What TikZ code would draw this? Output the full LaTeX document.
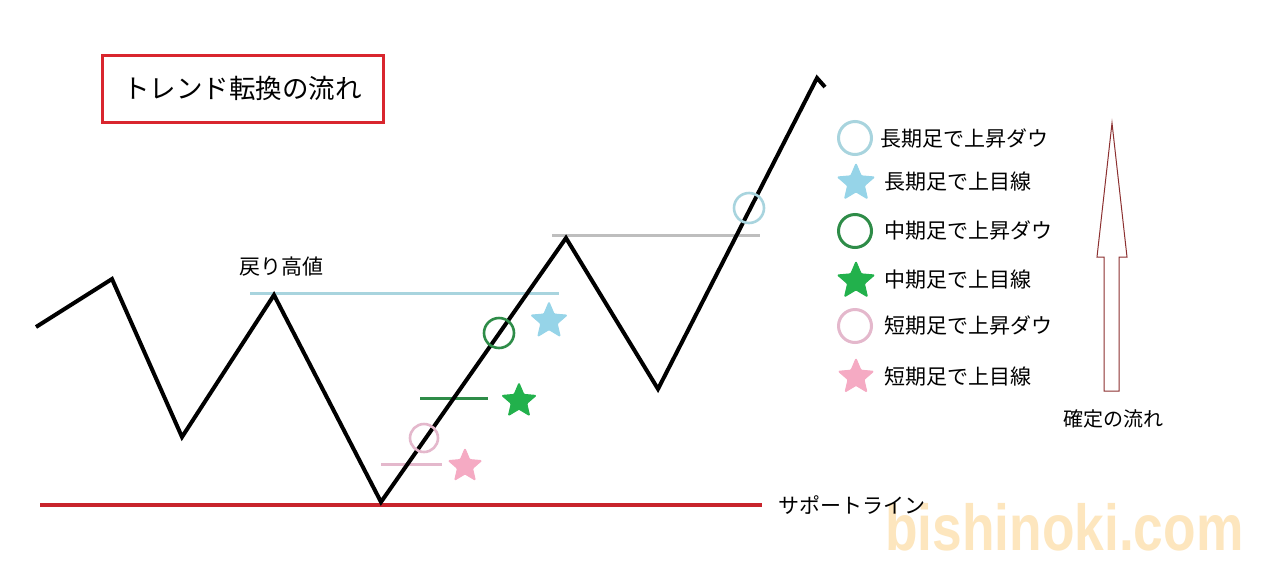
\documentclass[tikz,border=0pt]{standalone}
\usepackage{fontspec}
\setmainfont{Noto Sans CJK JP}
\newfontfamily\wmfont{Liberation Sans}
\usetikzlibrary{shapes.geometric}
\definecolor{lblue}{RGB}{168,212,222}
\definecolor{sblue}{RGB}{150,212,232}
\definecolor{mgreen}{RGB}{46,140,72}
\definecolor{sgreen}{RGB}{34,177,76}
\definecolor{lpink}{RGB}{228,184,204}
\definecolor{spink}{RGB}{245,170,195}
\definecolor{supred}{RGB}{200,36,44}
\definecolor{boxred}{RGB}{217,38,46}
\definecolor{arrred}{RGB}{140,48,48}
\definecolor{greyl}{RGB}{190,190,190}
\definecolor{wmorange}{RGB}{253,230,190}
\tikzset{
  ring/.style={circle,draw=#1,line width=2.6pt,inner sep=0pt,minimum size=30pt},
  bigring/.style={circle,draw=#1,line width=3pt,inner sep=0pt,minimum size=33pt},
  starshape/.style={star,star points=5,star point ratio=2.2,fill=#1,draw=#1,line width=1pt,line join=round,rounded corners=1pt,inner sep=0pt,minimum size=36pt},
  lbl/.style={inner sep=0pt,anchor=west,font=\fontsize{21}{23}\selectfont},
  hline/.style={line width=3pt,draw=#1}
}
\begin{document}
\begin{tikzpicture}[x=1pt,y=-1pt]
\useasboundingbox[fill=white] (0,0) rectangle (1280,574);
% watermark
\node[inner sep=0pt,anchor=south west,text=wmorange,xscale=0.82,font=\wmfont\bfseries\fontsize{65}{65}\selectfont] (wm) at (885,551) {bishinoki.com};
% title
\node[draw=boxred,line width=3pt,minimum width=281pt,minimum height=67pt,inner sep=0pt,font=\fontsize{26.5}{28}\selectfont] (title) at (242.5,88.5) {トレンド転換の流れ};
% reference lines
\coordinate (bl1) at (250,293); \coordinate (bl2) at (559,293);
\draw[hline=lblue] (bl1) -- (bl2);
\coordinate (gl1) at (552,235); \coordinate (gl2) at (760,235);
\draw[hline=greyl] (gl1) -- (gl2);
\coordinate (ml1) at (420,398); \coordinate (ml2) at (488,398);
\draw[hline=mgreen] (ml1) -- (ml2);
\coordinate (pl1) at (381,464); \coordinate (pl2) at (442,464);
\draw[hline=lpink] (pl1) -- (pl2);
\coordinate (s1) at (40,505); \coordinate (s2) at (762,505);
\draw[line width=4.5pt,draw=supred] (s1) -- (s2);
% price path
\coordinate (p1) at (36,327);
\coordinate (p2) at (112,279);
\coordinate (p3) at (182,437);
\coordinate (p4) at (274,295);
\coordinate (p5) at (381,502);
\coordinate (p6) at (566,238);
\coordinate (p7) at (658,389);
\coordinate (p8) at (817,78);
\coordinate (p9) at (825,87);
\draw[line width=4pt,line join=miter] (p1) -- (p2) -- (p3) -- (p4) -- (p5) -- (p6) -- (p7) -- (p8) -- (p9);
% markers on chart
\node[ring=lblue] (c1) at (749,208) {};
\node[ring=mgreen] (c2) at (499,333) {};
\node[ring=lpink,minimum size=28pt] (c3) at (424,438) {};
\node[starshape=sblue,minimum size=38pt] (st1) at (549,321) {};
\node[starshape=sgreen] (st2) at (519,401) {};
\node[starshape=spink,minimum size=35pt] (st3) at (465,466) {};
% labels
\node[inner sep=0pt,font=\fontsize{21}{23}\selectfont] (modori) at (281,267) {戻り高値};
\node[lbl] (support) at (778,505) {サポートライン};
% legend
\node[bigring=lblue] (lg1) at (855,138) {};
\node[lbl] (lt1) at (880,138) {長期足で上昇ダウ};
\node[starshape=sblue,minimum size=39pt] (lg2) at (856,183) {};
\node[lbl] (lt2) at (884,182) {長期足で上目線};
\node[bigring=mgreen] (lg3) at (855,231) {};
\node[lbl] (lt3) at (884,230) {中期足で上昇ダウ};
\node[starshape=sgreen,minimum size=39pt] (lg4) at (856,281) {};
\node[lbl] (lt4) at (884,280) {中期足で上目線};
\node[bigring=lpink] (lg5) at (855,326) {};
\node[lbl] (lt5) at (884,325) {短期足で上昇ダウ};
\node[starshape=spink,minimum size=37pt] (lg6) at (856,377) {};
\node[lbl] (lt6) at (884,377) {短期足で上目線};
% confirmation arrow
\coordinate (a1) at (1112,123);
\coordinate (a2) at (1127,257);
\coordinate (a3) at (1119,257);
\coordinate (a4) at (1119,391);
\coordinate (a5) at (1104,391);
\coordinate (a6) at (1104,257);
\coordinate (a7) at (1097,257);
\draw[draw=arrred,line width=1pt,line join=miter] (a1) -- (a2) -- (a3) -- (a4) -- (a5) -- (a6) -- (a7) -- cycle;
\node[inner sep=0pt,font=\fontsize{20}{22}\selectfont] (kakutei) at (1113,419) {確定の流れ};
\end{tikzpicture}
\end{document}
